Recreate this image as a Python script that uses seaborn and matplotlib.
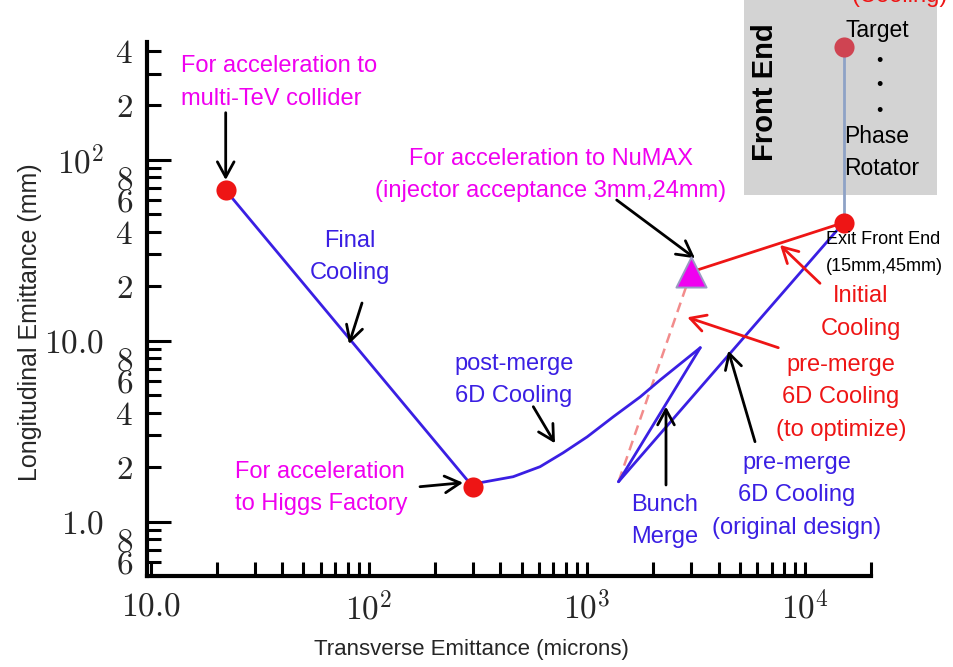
import numpy as np
import pandas as pd
import matplotlib
matplotlib.use("Agg")
import matplotlib.pyplot as plt
import seaborn as sns
from matplotlib.ticker import FixedLocator, FixedFormatter, LogLocator, FuncFormatter
from matplotlib.patches import Rectangle

# ---- emittance path, transverse in microns, longitudinal in mm ----
premerge_trans = [15000, 1392]
premerge_long = [45, 1.66]
bunch_merge_trans = [1392, 3300]
bunch_merge_long = [1.66, 9.15]
postmerge_trans = [3300, 2163, 1750, 1315, 1000, 776, 608, 458, 323, 300]
postmerge_long = [9.15, 6.07, 4.89, 3.79, 2.94, 2.40, 2.01, 1.77, 1.64, 1.55]
final_trans = [300, 22]
final_long = [1.55, 68]
initial_trans = [3000, 15000]
initial_long = [24, 45]
optimize_trans = [3000, 1392]
optimize_long = [24, 1.66]
frontend_trans = [15000, 15000]
frontend_long = [420, 45]

stage_trans = [22, 300, 15000]      # multi-TeV, Higgs factory, front-end exit
stage_long = [68, 1.55, 45]
numax_trans = [3000]
numax_long = [24]
target_trans = [15000]
target_long = [420]

x_major_ticks = [10, 100, 1000, 10000]
x_major_labels = [r"$10.0$", r"$10^2$", r"$10^3$", r"$10^4$"]
y_major_ticks = [1, 10, 100]
y_major_labels = [r"$1.0$", r"$10.0$", r"$10^2$"]
y_minor_shown = [2, 4, 6, 8]

W, H = 954, 667
BLUE = "#3a1fe3"
RED = "#ee1515"
MAGENTA = "#f000f0"

sns.set_style("white")
plt.rcParams["font.family"] = ["Liberation Sans", "DejaVu Sans"]
plt.rcParams["mathtext.fontset"] = "cm"

fig = plt.figure(figsize=(W / 100, H / 100), dpi=100)
fig.patch.set_facecolor("white")


def fp(px, py):
    """pixel position -> figure fraction"""
    return (px / W, 1 - py / H)


ax = fig.add_axes([147 / W, 1 - 576 / H, (871 - 147) / W, (576 - 41.7) / H])
ax.patch.set_visible(False)
ax.set_xscale("log")
ax.set_yscale("log")
ax.set_xlim(9.6, 2e4)
ax.set_ylim(0.5, 450)

# Front End box
fig.add_artist(Rectangle(fp(744, 195), (937 - 744) / W, 200 / H,
                         transform=fig.transFigure, facecolor="#d3d3d3",
                         edgecolor="none", zorder=-5))

lw = 2.0
sns.lineplot(x=frontend_trans, y=frontend_long, sort=False, estimator=None,
             color="#8ea2c6", lw=2.0, ax=ax, zorder=2)
sns.lineplot(x=optimize_trans, y=optimize_long, sort=False, estimator=None,
             color="#f28c8c", lw=1.8, linestyle=(0, (4, 2.5)), ax=ax, zorder=2)
for xs, ys in [(premerge_trans, premerge_long),
               (bunch_merge_trans, bunch_merge_long),
               (postmerge_trans, postmerge_long),
               (final_trans, final_long)]:
    sns.lineplot(x=xs, y=ys, sort=False, estimator=None, color=BLUE,
                 lw=lw, ax=ax, zorder=3)
sns.lineplot(x=initial_trans, y=initial_long, sort=False, estimator=None,
             color=RED, lw=lw, ax=ax, zorder=3)

sns.scatterplot(x=stage_trans, y=stage_long, s=210, color=RED,
                linewidth=0, ax=ax, zorder=5, clip_on=False)
sns.scatterplot(x=target_trans, y=target_long, s=210, color="#cf4452",
                linewidth=0, ax=ax, zorder=5, clip_on=False)
sns.scatterplot(x=numax_trans, y=numax_long, s=470, marker="^",
                color=MAGENTA, edgecolor="#9a9ac4", linewidth=1.4,
                ax=ax, zorder=6, clip_on=False)

# ---- axes styling ----
for side in ["top", "right"]:
    ax.spines[side].set_visible(False)
for side in ["left", "bottom"]:
    ax.spines[side].set_linewidth(3)
    ax.spines[side].set_color("black")

ax.xaxis.set_major_locator(FixedLocator(x_major_ticks))
ax.xaxis.set_major_formatter(FixedFormatter(x_major_labels))
ax.xaxis.set_minor_locator(LogLocator(base=10, subs=np.arange(2, 10)))
ax.xaxis.set_minor_formatter(FuncFormatter(lambda v, p: ""))

ax.yaxis.set_major_locator(FixedLocator(y_major_ticks))
ax.yaxis.set_major_formatter(FixedFormatter(y_major_labels))
ax.yaxis.set_minor_locator(LogLocator(base=10, subs=np.arange(2, 10)))


def minor_digit(v, pos):
    m = int(round(v / 10 ** np.floor(np.log10(v) + 1e-9)))
    return f"${m}$" if m in y_minor_shown else ""


ax.yaxis.set_minor_formatter(FuncFormatter(minor_digit))

ax.tick_params(which="both", direction="in", width=2.2, color="black",
               labelcolor="#262626", bottom=True, left=True)
ax.tick_params(axis="x", which="both", length=10, pad=11, labelsize=24)
ax.tick_params(axis="y", which="major", length=17, pad=31, labelsize=24)
ax.tick_params(axis="y", which="minor", length=10, pad=10, labelsize=24)

fig.text(*fp(30, 322), "Longitudinal Emittance (mm)", rotation=90,
         ha="center", va="center", fontsize=18)
fig.text(*fp(471, 650), "Transverse Emittance (microns)",
         ha="center", va="center", fontsize=16)

# ---- annotations ----
def label(px, py, s, color, ha="center", size=17, ls=1.62, **kw):
    fig.text(*fp(px, py), s, color=color, ha=ha, va="center",
             fontsize=size, linespacing=ls, **kw)


def arrow(tail, head, color="black"):
    ax.annotate("", xy=fp(*head), xycoords="figure fraction",
                xytext=fp(*tail), textcoords="figure fraction",
                arrowprops=dict(arrowstyle="->,head_length=0.55,head_width=0.3",
                                color=color, lw=2.0, mutation_scale=20,
                                shrinkA=0, shrinkB=0),
                annotation_clip=False)


label(181, 82.5, "For acceleration to\nmulti-TeV collider", MAGENTA, ha="left")
label(350, 257, "Final\nCooling", BLUE)
label(235, 488, "For acceleration\nto Higgs Factory", MAGENTA, ha="left")
label(514, 380, "post-merge\n6D Cooling", BLUE)
label(551, 175, "For acceleration to NuMAX\n(injector acceptance 3mm,24mm)", MAGENTA)
label(826, 253, "Exit Front End\n(15mm,45mm)", "black", ha="left", size=13, ls=1.8)
label(861, 312.5, "Initial\nCooling", RED)
label(841, 397.5, "pre-merge\n6D Cooling\n(to optimize)", RED)
label(797, 495.5, "pre-merge\n6D Cooling\n(original design)", BLUE)
label(665, 521, "Bunch\nMerge", BLUE)
label(765, 92, "Front End", "black", size=21, rotation=90, fontweight="bold")
label(846, 30, "Target", "black", ha="left", size=16.5)
label(844, 152.5, "Phase\nRotator", "black", ha="left", size=16.5, ls=1.55)
for py in (61.7, 85, 111.7):
    label(879, py, "\u2022", "black", size=13)
fig.text(*fp(900, 2), "(Cooling)", color=RED, ha="center", va="baseline",
         fontsize=17)

arrow((225.7, 112.7), (225.7, 180))
arrow((362, 303), (349, 344))
arrow((420, 486.7), (463, 482.7))
arrow((533.3, 406.7), (555, 443.3))
arrow((616.7, 200), (695, 258.3))
arrow((820, 283.3), (780, 245), RED)
arrow((778.3, 347.7), (687.3, 317.3), RED)
arrow((755, 441.7), (728.3, 350.7))
arrow((666, 485), (666, 406.7))

fig.savefig("out.png", dpi=100, facecolor="white")
